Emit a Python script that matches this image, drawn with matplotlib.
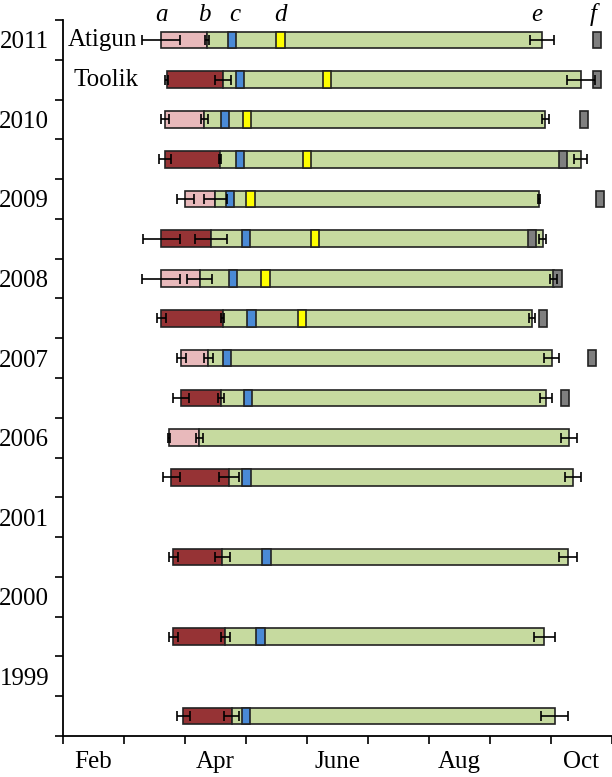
import numpy as np
import matplotlib.pyplot as plt

plt.rcParams['font.family'] = ['Liberation Serif', 'DejaVu Serif']

# x in months after 1 Feb (0 = 1 Feb, 1 = 1 Mar, ... 9 = 1 Nov)
years = ['2011', '2010', '2009', '2008', '2007', '2006', '2001', '2000', '1999']
months = ['Feb', 'Apr', 'June', 'Aug', 'Oct']
phase_labels = ['a', 'b', 'c', 'd', 'e', 'f']

# one entry per drawn bar, top to bottom (row = slot index, 2 slots per year)
rows = [0, 1, 2, 3, 4, 5, 6, 7, 8, 9, 10, 11, 13, 15, 17]
site = ['A', 'T', 'A', 'T', 'A', 'T', 'A', 'T', 'A', 'T', 'A', 'T', 'T', 'T', 'T']
a_start = [1.607, 1.700, 1.672, 1.667, 2.005, 1.611, 1.607, 1.611, 1.943, 1.934, 1.738, 1.775, 1.811, 1.811, 1.972]
a_err = [0.31, 0.02, 0.066, 0.098, 0.136, 0.307, 0.307, 0.074, 0.07, 0.136, 0.015, 0.143, 0.079, 0.079, 0.11]
b_end = [2.356, 2.623, 2.316, 2.574, 2.500, 2.423, 2.246, 2.618, 2.385, 2.590, 2.238, 2.726, 2.615, 2.664, 2.766]
b_err = [0.033, 0.13, 0.055, 0.02, 0.185, 0.26, 0.205, 0.02, 0.07, 0.046, 0.06, 0.164, 0.123, 0.074, 0.126]
c_blue = [2.766, 2.902, 2.656, 2.905, 2.744, 2.998, 2.790, 3.093, 2.693, 3.030, None, 3.011, 3.336, 3.238, 3.003]
d_yellow = [3.566, 4.331, 3.020, 4.003, 3.074, 4.130, 3.320, 3.918, None, None, None, None, None, None, None]
e_end = [7.857, 8.492, 7.913, 8.492, 7.803, 7.869, 8.049, 7.693, 8.016, 7.926, 8.303, 8.366, 8.287, 7.897, 8.066]
e_err = [0.19, 0.233, 0.055, 0.11, 0.015, 0.055, 0.057, 0.05, 0.126, 0.103, 0.128, 0.136, 0.151, 0.169, 0.218]
f_grey = [8.762, 8.762, 8.552, 8.205, 8.802, 7.697, 8.111, 7.872, 8.680, 8.238, None, None, None, None, None]

pink = '#e8b9bb'
red = '#963335'
green = '#c6da9f'
blue = '#4a8ad6'
yellow = '#ffff00'
grey = '#7f7f7f'

h = 0.42
w = 0.135
edge = '#222222'

fig = plt.figure(figsize=(6.12, 7.77), dpi=100)
ax = fig.add_axes([0.103, 0.0528, 0.8965, 0.9215])

for i, r in enumerate(rows):
    y = r + 0.5
    col = pink if site[i] == 'A' else red
    ax.barh(y, b_end[i] - a_start[i], left=a_start[i], height=h, color=col,
            edgecolor=edge, linewidth=1.2, zorder=2)
    ax.barh(y, e_end[i] - b_end[i], left=b_end[i], height=h, color=green,
            edgecolor=edge, linewidth=1.2, zorder=2)
    if c_blue[i] is not None:
        ax.barh(y, w, left=c_blue[i] - w / 2, height=h, color=blue,
                edgecolor=edge, linewidth=1.2, zorder=3)
    if d_yellow[i] is not None:
        ax.barh(y, w, left=d_yellow[i] - w / 2, height=h, color=yellow,
                edgecolor=edge, linewidth=1.2, zorder=3)
    if f_grey[i] is not None:
        ax.barh(y, w, left=f_grey[i] - w / 2, height=h, color=grey,
                edgecolor=edge, linewidth=1.2, zorder=3)
    ax.errorbar([a_start[i], b_end[i], e_end[i]], [y, y, y],
                xerr=[a_err[i], b_err[i], e_err[i]], fmt='none', ecolor='k',
                elinewidth=1.2, capsize=3.5, capthick=1.2, zorder=4)

# column letters above the first row
letter_x = [a_start[0], b_end[0] - 0.04, c_blue[0] + 0.05, d_yellow[0], 7.77, f_grey[0] - 0.06]
for lab, xx in zip(phase_labels, letter_x):
    ax.text(xx, 0.02, lab, style='italic', fontsize=18, ha='center',
            va='baseline', clip_on=False)

ax.text(0.08, 0.5, 'Atigun', fontsize=18, va='center', ha='left')
ax.text(0.17, 1.5, 'Toolik', fontsize=18, va='center', ha='left')

ax.set_xlim(0, 9)
ax.set_ylim(18, 0)

ax.set_xticks(np.arange(0, 10))
ax.set_xticklabels([])
ax.set_xticks(np.arange(0.5, 9, 2), minor=True)
ax.set_xticklabels(months, minor=True, fontsize=18)

ax.set_yticks(np.arange(0, 19))
ax.set_yticklabels([])
ax.set_yticks(np.arange(0.5, 18, 2), minor=True)
ax.set_yticklabels(years, minor=True, fontsize=18)

ax.tick_params(which='major', direction='out', length=6, width=1.2)
ax.tick_params(which='minor', length=0)
ax.tick_params(axis='x', which='minor', pad=11)
ax.tick_params(axis='y', which='minor', pad=10)

ax.spines['top'].set_visible(False)
ax.spines['right'].set_visible(False)
ax.spines['left'].set_linewidth(1.3)
ax.spines['bottom'].set_linewidth(1.3)

fig.savefig('out.png', dpi=100)
